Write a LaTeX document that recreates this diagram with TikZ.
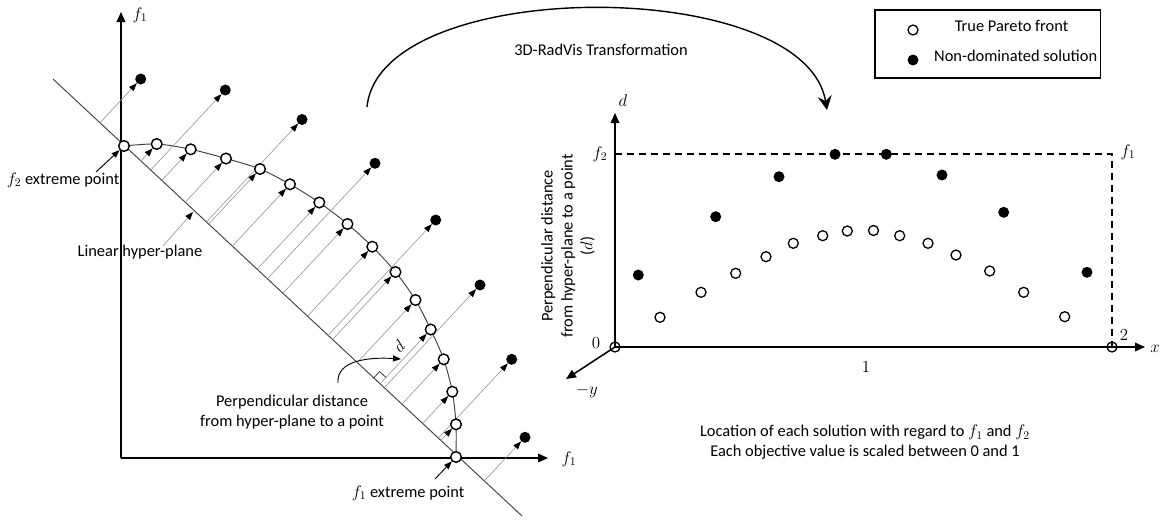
\documentclass[tikz,border=0pt]{standalone}
\usepackage{fontspec}
\setmainfont{Carlito}
\usetikzlibrary{arrows.meta,calc}
\pgfdeclarelayer{bg}
\pgfsetlayers{bg,main}
\begin{document}
\begin{tikzpicture}[x=0.03cm,y=-0.03cm,
  lbl/.style={font=\fontsize{14}{17}\selectfont, inner sep=0pt, align=center},
  opn/.style={circle, draw=black, line width=1.2pt, fill=white, minimum size=0.32cm, inner sep=0pt},
  opnr/.style={circle, draw=black, line width=1.1pt, minimum size=0.3cm, inner sep=0pt},
  dot/.style={circle, fill=black, minimum size=0.33cm, inner sep=0pt},
  axis/.style={line width=1.3pt, -{Triangle[length=0.3cm,width=0.26cm]}},
  proj/.style={draw=gray!85, line width=0.5pt, -{Triangle[length=0.24cm,width=0.18cm,color=black]}},
  ptr/.style={line width=0.8pt, -{Triangle[length=0.24cm,width=0.18cm]}},
  dsh/.style={line width=1pt, dash pattern=on 0.22cm off 0.14cm},
  ]
\useasboundingbox (0,0) rectangle (1167,522);

% ---------------- left plot ----------------
\coordinate (O) at (121,458);
\coordinate (Ytip) at (121,12);
\coordinate (Xtip) at (548,458);
\coordinate (H1) at (53,79);
\coordinate (H2) at (522,516);

\foreach \n/\x/\y in {1/124/146, 2/156.7/144, 3/190.7/149.3, 4/226/158.5, 5/260/169,
  6/290/184.3, 7/319.3/202.5, 8/347.5/224, 9/372.3/246.7, 10/395.5/272, 11/415.5/300,
  12/430.7/329.5, 13/443.7/359.3, 14/452.3/391.7, 15/456/424.3, 16/456/457}
  \node[opn] (p\n) at (\x,\y) {};
\foreach \n/\x/\y in {1/140.7/79, 2/225.3/90, 3/302/119.5, 4/375/163.3, 5/435.7/220,
  6/480/285, 7/511.7/359.3, 8/525/437.3}
  \node[dot] (q\n) at (\x,\y) {};

\begin{pgfonlayer}{bg}
  \draw[axis] (O) -- (Ytip);
  \draw[axis] (O) -- (Xtip);
  \draw[line width=0.8pt, draw=black!75] (H1) -- (H2);
  \draw[line width=0.8pt, draw=black!75] plot[smooth] coordinates {(p1.center) (p2.center) (p3.center) (p4.center) (p5.center) (p6.center) (p7.center) (p8.center) (p9.center) (p10.center) (p11.center) (p12.center) (p13.center) (p14.center) (p15.center) (p16.center)};
  \foreach \n in {2,...,15} \draw[proj] ($(H1)!(p\n)!(H2)$) -- (p\n);
  \foreach \n in {1,...,8} \draw[proj] ($(H1)!(q\n)!(H2)$) -- (q\n);
\end{pgfonlayer}

\node[lbl] (f1y) at (140,15) {$f_1$};
\node[lbl] (f1x) at (569,459) {$f_1$};

% right-angle mark
\coordinate (F) at ($(H1)!(p12)!(H2)$);
\coordinate (Fa) at ($(F)!0.26cm!(H1)$);
\coordinate (Fc) at ($(F)!0.26cm!(p12)$);
\draw[line width=0.5pt] (Fa) -- ($(Fa)+(Fc)-(F)$) -- (Fc);
\node[lbl, rotate=45] (dl) at (399,346) {$d$};

% labels and pointers
\node[lbl] (fe2) at (63,180) {$f_2$ extreme point};
\coordinate (fe2s) at (96,172);
\draw[ptr] (fe2s) -- (p1);
\node[lbl] (fe1) at (408,493) {$f_1$ extreme point};
\coordinate (fe1s) at (435,479);
\draw[ptr] (fe1s) -- (p16);
\node[lbl] (lin) at (140,252) {Linear hyper-plane};
\coordinate (lh1) at (163,246);
\coordinate (lh2) at (193,212);
\draw[proj] (lh1) -- (lh2);
\node[lbl] (perp) at (292,412) {Perpendicular distance\\from hyper-plane to a point};
\coordinate (c1) at (338,383);
\coordinate (c2) at (401,359);
\draw[ptr] (c1) .. controls (336,360) and (370,357) .. (c2);

% ---------------- transformation arc ----------------
\coordinate (arcS) at (367,107);
\coordinate (arcE) at (827,110);
\draw[line width=1.2pt, -{Stealth[length=0.42cm,width=0.42cm,inset=0.15cm]}] (arcS) .. controls (380,-25) and (805,-25) .. (arcE);
\node[lbl] (trans) at (601,50) {3D-RadVis Transformation};

% ---------------- legend ----------------
\node[draw, line width=1pt, minimum width=6.765cm, minimum height=2.04cm, inner sep=0pt] (legend) at (987.75,44) {};
\node[opnr] (lgo) at (913,30) {};
\node[dot] (lgd) at (913,60) {};
\node[lbl] (lgt1) at (1011.5,26) {True Pareto front};
\node[lbl] (lgt2) at (1015.7,56) {Non-dominated solution};

% ---------------- right plot ----------------
\coordinate (R0) at (615,347);
\coordinate (Rd) at (615,113);
\coordinate (Rx) at (1145,347);
\coordinate (Ry) at (566,379);
\coordinate (Tl) at (615,154);
\coordinate (Tr) at (1112,154);
\coordinate (Br) at (1112,347);
\draw[dsh] (Tl) -- (Tr) -- (Br);
\draw[axis] (R0) -- (Rd);
\draw[axis] (R0) -- (Rx);
\draw[axis] (R0) -- (Ry);
\node[opnr] (r0) at (R0) {};
\node[opnr] (r2) at (Br) {};

\foreach \n/\x/\y in {1/660/317.3, 2/701/292.3, 3/735.7/273.3, 4/766/256.7, 5/793.3/243.3,
  6/822.7/235.7, 7/847.3/231, 8/873.5/230.5, 9/899.7/235.7, 10/928/243.3, 11/956/255,
  12/989.7/271, 13/1023.7/292.3, 14/1064.7/316.7}
  \node[opnr] (o\n) at (\x,\y) {};
\foreach \n/\x/\y in {1/638.3/275, 2/715.7/216.7, 3/779/176.7, 4/835/154.3, 5/886.3/154.3,
  6/942/175, 7/1003.7/212.3, 8/1087/272.3}
  \node[dot] (s\n) at (\x,\y) {};

\node[lbl] (dlab) at (623,101) {$d$};
\node[lbl] (f2lab) at (600,154) {$f_2$};
\node[lbl] (f1lab) at (1128,152) {$f_1$};
\node[lbl] (zero) at (596,343) {$0$};
\node[lbl] (one) at (866,367) {$1$};
\node[lbl] (two) at (1124,335) {$2$};
\node[lbl] (xlab) at (1155,349) {$x$};
\node[lbl] (ylab) at (587,391) {$-y$};
\node[lbl, rotate=90] (rlab) at (568,246) {Perpendicular distance\\from hyper-plane to a point\\($d$)};
\node[lbl] (loc) at (865,442) {Location of each solution with regard to $f_1$ and $f_2$\\Each objective value is scaled between 0 and 1};
\end{tikzpicture}
\end{document}
